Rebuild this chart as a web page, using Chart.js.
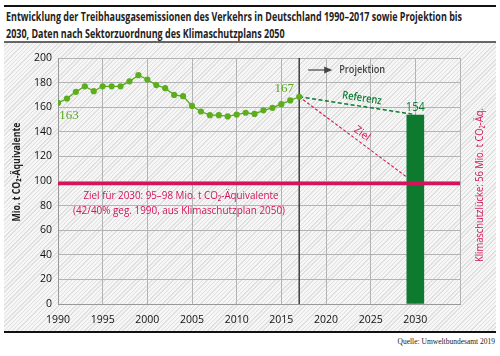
<!DOCTYPE html>
<html><head><meta charset="utf-8">
<script src="https://cdn.jsdelivr.net/npm/chart.js@4/dist/chart.umd.min.js"></script>
<style>
html,body{margin:0;padding:0;background:#fff;}
#wrap{position:relative;width:500px;height:356px;overflow:hidden;font-family:"Open Sans","Noto Sans",sans-serif;}
#hatch{position:absolute;left:4px;top:43px;width:492px;height:288px;background:repeating-linear-gradient(135deg,#f6f6f6 0px,#f6f6f6 2px,#e0e0e0 2px,#e0e0e0 3px);}
#topline{position:absolute;left:4px;top:5px;width:492px;height:2px;background:#111;}
#subline{position:absolute;left:4px;top:41px;width:492px;height:2px;background:#666;}
#botline{position:absolute;left:4px;top:331px;width:492px;height:2px;background:#111;}
.title{position:absolute;left:6px;font-weight:bold;font-size:12px;line-height:14px;color:#222;white-space:nowrap;transform-origin:0 50%;font-family:"Open Sans","Noto Sans",sans-serif;}
#t1{top:10px;}
#t2{top:27px;}
#src{position:absolute;right:5px;top:337px;font-family:"Liberation Serif","DejaVu Serif",serif;font-size:7.5px;color:#222;}
canvas{position:absolute;left:0;top:0;}
</style></head>
<body><div id="wrap">
<div id="hatch"></div>
<div id="topline"></div>
<div id="subline"></div>
<div id="botline"></div>
<div class="title" id="t1">Entwicklung der Treibhausgasemissionen des Verkehrs in Deutschland 1990–2017 sowie Projektion bis</div>
<div class="title" id="t2">2030, Daten nach Sektorzuordnung des Klimaschutzplans 2050</div>
<div id="src">Quelle: Umweltbundesamt 2019</div>
<canvas id="c" width="500" height="356"></canvas>
</div>
<script>
// ---- data ----
const years = [1990,1991,1992,1993,1994,1995,1996,1997,1998,1999,2000,2001,2002,2003,2004,2005,2006,2007,2008,2009,2010,2011,2012,2013,2014,2015,2016,2017];
const emissions = [163.5,167,172.5,177,173,177,177,177,181,186,182.5,178,175.5,170,169,161,156.5,153.5,153.5,152.5,154,155.5,154.5,157.5,159.5,162.5,165.5,168.5];
const projYears = [2017,2030];
const referenz = [168.5,154];
const ziel = [168.5,98];
const barYear = [2030];
const barValue = [153.5];
const barLabel = ['154'];
const targetYears = [1990,2035];
const targetValue = [98,98];
const projStartYear = 2017;
const yTicks = [0,20,40,60,80,100,120,140,160,180,200];
const xTickLabels = [1990,1995,2000,2005,2010,2015,2020,2025,2030];

// fit title width
(function(){
  const t1=document.getElementById('t1'), t2=document.getElementById('t2');
  const s = 456 / t1.getBoundingClientRect().width;
  t1.style.transform='scaleX('+s+')'; t2.style.transform='scaleX('+s+')';
})();

const PINK='#d3145a', LGREEN='#5aa81e', DGREEN='#0d7a30';
const FONT='"Open Sans","Noto Sans",sans-serif';

function fitText(ctx, text, x, y, w, align, rot){
  const m = ctx.measureText(text).width;
  const s = w ? w/m : 1;
  ctx.save(); ctx.translate(x,y); if(rot) ctx.rotate(rot); ctx.scale(s,1);
  ctx.textAlign=align||'center'; ctx.fillText(text,0,0); ctx.restore();
}

const labelsPlugin = {
  id:'labels',
  afterDatasetsDraw(chart){
    const {ctx, chartArea:ca, scales:{x,y}} = chart;
    const X=v=>x.getPixelForValue(v), Y=v=>y.getPixelForValue(v);
    ctx.save();
    ctx.textBaseline='middle';
    // endpoint labels
    ctx.fillStyle=LGREEN;
    ctx.font='13px "Liberation Serif","DejaVu Serif",serif';
    fitText(ctx,'163',X(years[0])+11,Y(emissions[0])+13,0,'center');
    fitText(ctx,'167',X(years[years.length-1])-15,Y(emissions[emissions.length-1])-8,0,'center');
    // bar label
    ctx.fillStyle=DGREEN; ctx.font='12px '+FONT;
    ctx.textBaseline='bottom';
    fitText(ctx,barLabel[0],X(barYear[0]),Y(barValue[0])-2,19,'center');
    ctx.textBaseline='middle';
    // Referenz label
    let x0=X(projYears[0]), x1=X(projYears[1]);
    let ry0=Y(referenz[0]), ry1=Y(referenz[1]);
    let ang=Math.atan2(ry1-ry0,x1-x0);
    let t=0.53, px=x0+(x1-x0)*t, py=ry0+(ry1-ry0)*t;
    ctx.fillStyle=DGREEN; ctx.font='600 11px '+FONT;
    fitText(ctx,'Referenz',px+8*Math.sin(ang),py-8*Math.cos(ang),40,'center',ang);
    // Ziel label
    let zy0=Y(ziel[0]), zy1=Y(ziel[1]);
    ang=Math.atan2(zy1-zy0,x1-x0);
    t=0.5; px=x0+(x1-x0)*t; py=zy0+(zy1-zy0)*t;
    ctx.fillStyle=PINK; ctx.font='11px '+FONT;
    fitText(ctx,'Ziel',px+8*Math.sin(ang),py-8*Math.cos(ang),17,'center',ang);
    // target text
    ctx.fillStyle=PINK; ctx.font='11px '+FONT;
    const ty=Y(targetValue[0]);
    fitText(ctx,'Ziel für 2030: 95–98 Mio. t CO₂-Äquivalente',181,ty+12,195,'center');
    fitText(ctx,'(42/40% geg. 1990, aus Klimaschutzplan 2050)',179,ty+27,212,'center');
    // Projektion arrow
    const ay=ca.top+12;
    ctx.strokeStyle='#444'; ctx.fillStyle='#444'; ctx.lineWidth=1.2;
    ctx.beginPath(); ctx.moveTo(X(projStartYear)+9,ay); ctx.lineTo(X(projStartYear)+27,ay); ctx.stroke();
    ctx.beginPath(); ctx.moveTo(X(projStartYear)+33,ay); ctx.lineTo(X(projStartYear)+25,ay-3.5); ctx.lineTo(X(projStartYear)+25,ay+3.5); ctx.closePath(); ctx.fill();
    ctx.font='600 11px '+FONT; ctx.fillStyle='#444';
    fitText(ctx,'Projektion',X(projStartYear)+40,ay,46,'left');
    // right label
    ctx.fillStyle=PINK; ctx.font='11px '+FONT;
    fitText(ctx,'Klimaschutzlücke: 56 Mio. t CO₂-Äq.',ca.right+20,185,154,'center',-Math.PI/2);
    // y title
    ctx.fillStyle='#222'; ctx.font='bold 11px '+FONT;
    fitText(ctx,'Mio. t CO₂-Äquivalente',17,172,99,'center',-Math.PI/2);
    ctx.restore();
  }
};

new Chart(document.getElementById('c'),{
  type:'line',
  data:{datasets:[
    {type:'line',data:targetYears.map((v,i)=>({x:v,y:targetValue[i]})),borderColor:PINK,borderWidth:3.5,pointRadius:0,order:0},
    {type:'bar',data:barYear.map((v,i)=>({x:v,y:barValue[i]})),backgroundColor:DGREEN,barThickness:17,order:1},
    {type:'line',data:projYears.map((v,i)=>({x:v,y:ziel[i]})),borderColor:PINK,borderWidth:1.1,borderDash:[3,2],pointRadius:0,order:2},
    {type:'line',data:projYears.map((v,i)=>({x:v,y:referenz[i]})),borderColor:DGREEN,borderWidth:1.5,borderDash:[4,2.5],pointRadius:0,order:2},
    {type:'line',data:years.map((v,i)=>({x:v,y:emissions[i]})),borderColor:LGREEN,borderWidth:1.3,pointRadius:3.1,pointBackgroundColor:'#5cae1f',pointBorderWidth:0,tension:0,order:1},
    {type:'line',data:[{x:projStartYear,y:yTicks[0]},{x:projStartYear,y:yTicks[yTicks.length-1]}],borderColor:'#333',borderWidth:1.4,pointRadius:0,order:5}
  ]},
  options:{
    responsive:false,animation:false,events:[],
    layout:{padding:{top:58,right:40,left:0,bottom:0}},
    plugins:{legend:{display:false},tooltip:{enabled:false}},
    scales:{
      x:{type:'linear',min:1990,max:2035,offset:false,
        afterFit:s=>{s.height=52;},
        grid:{color:'#b3b3b3',lineWidth:1,drawTicks:false,offset:false},
        border:{color:'#999'},
        ticks:{stepSize:5,padding:10,color:'#111',font:{family:FONT,size:10.5},maxRotation:0,
          callback:v=>xTickLabels.includes(v)?String(v):''}},
      y:{min:0,max:200,
        afterFit:s=>{s.width=58;},
        grid:{color:'#b3b3b3',lineWidth:1,drawTicks:false},
        border:{color:'#999'},
        ticks:{stepSize:20,padding:6,color:'#111',font:{family:FONT,size:10.5},
          callback:v=>yTicks.includes(v)?String(v):''}}
    }
  },
  plugins:[labelsPlugin]
});
</script>
</body></html>
